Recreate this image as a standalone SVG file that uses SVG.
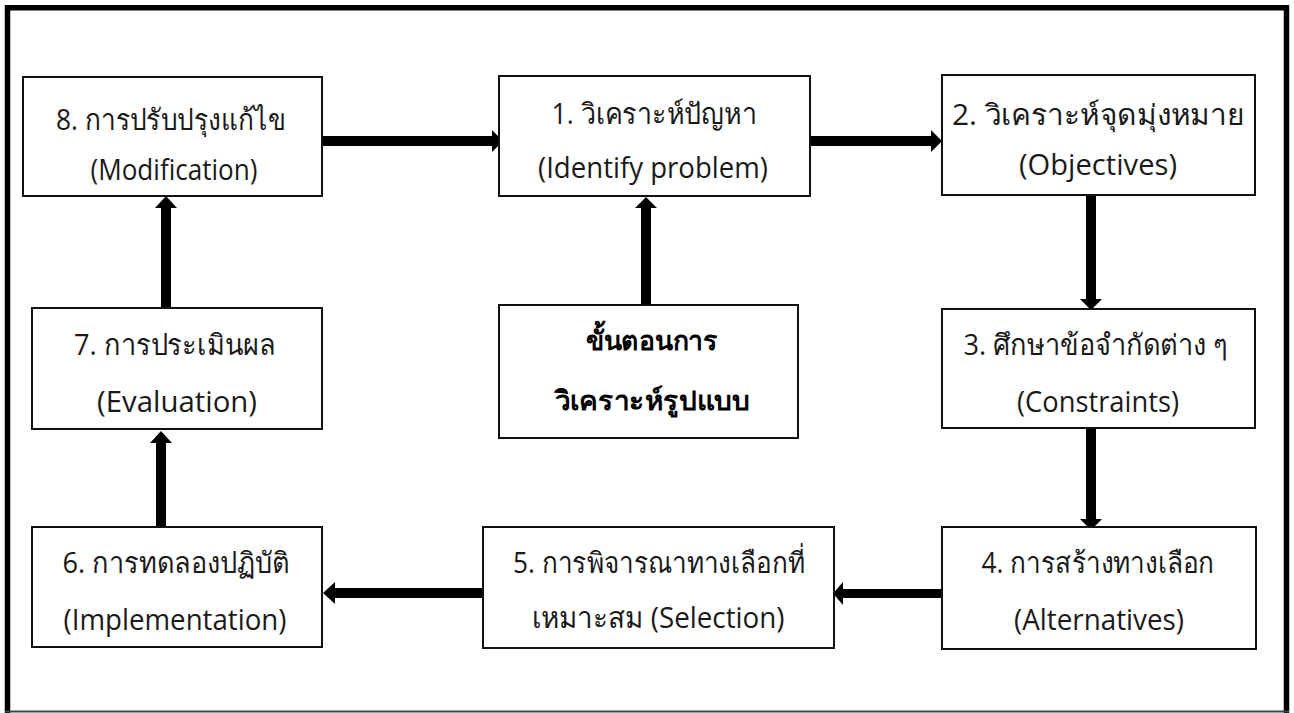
<svg xmlns="http://www.w3.org/2000/svg" width="1294" height="713" viewBox="0 0 1294 713">
<style>
.box{fill:#fff;stroke:#111;stroke-width:2}
.t{font-family:'Open Sans','Noto Sans',sans-serif;font-size:29px;fill:#1a1a1a;text-anchor:middle}
.b{font-weight:bold;fill:#000;font-size:27px}
.arr{fill:#000}
.frame{fill:none;stroke:#000;stroke-width:5.5}
</style>
<rect width="1294" height="713" fill="#fff"/>
<g id="frame">
<path class="frame" d="M7.5 713 V7.7 H1286.5 V713"/>
<line x1="5" y1="711.5" x2="1289" y2="711.5" stroke="#444" stroke-width="2"/>
</g>
<g id="connectors">
<polygon class="arr" points="322,136 492,136 492,130 503,141 492,152 492,146 322,146"/>
<polygon class="arr" points="810,136 931,136 931,130 942,141 931,152 931,146 810,146"/>
<polygon class="arr" points="1086,195 1096,195 1096,299 1102,299 1091,310 1080,299 1086,299"/>
<polygon class="arr" points="1086,428 1096,428 1096,519 1102,519 1091,530 1080,519 1086,519"/>
<polygon class="arr" points="942,589 843,589 843,582 833,593.5 843,605 843,598 942,598"/>
<polygon class="arr" points="483,588 335,588 335,582 323,593 335,604 335,598 483,598"/>
<polygon class="arr" points="156,527 166,527 166,443 172,443 161,431 150,443 156,443"/>
<polygon class="arr" points="161,308 171,308 171,208 177,208 166,196 155,208 161,208"/>
<polygon class="arr" points="641,305 651,305 651,208 657,208 646,197 635,208 641,208"/>
</g>
<g id="node8">
<rect class="box" x="23" y="77" width="299" height="119"/>
<text class="t" x="171" y="130" textLength="230" lengthAdjust="spacingAndGlyphs">8. การปรับปรุงแก้ไข</text>
<text class="t" x="174" y="180" textLength="167" lengthAdjust="spacingAndGlyphs">(Modification)</text>
</g>
<g id="node1">
<rect class="box" x="499" y="76" width="311" height="120"/>
<text class="t" x="654" y="124" textLength="205" lengthAdjust="spacingAndGlyphs">1. วิเคราะห์ปัญหา</text>
<text class="t" x="653" y="178" textLength="230" lengthAdjust="spacingAndGlyphs">(Identify problem)</text>
</g>
<g id="node2">
<rect class="box" x="942" y="75" width="313" height="120"/>
<text class="t" x="1098" y="125" textLength="292" lengthAdjust="spacingAndGlyphs">2. วิเคราะห์จุดมุ่งหมาย</text>
<text class="t" x="1098" y="175" textLength="158" lengthAdjust="spacingAndGlyphs">(Objectives)</text>
</g>
<g id="node3">
<rect class="box" x="942" y="309" width="313" height="119"/>
<text class="t" x="1096" y="355" textLength="265" lengthAdjust="spacingAndGlyphs">3. ศึกษาข้อจำกัดต่าง ๆ</text>
<text class="t" x="1098" y="412" textLength="162" lengthAdjust="spacingAndGlyphs">(Constraints)</text>
</g>
<g id="nodeCenter">
<rect class="box" x="499" y="305" width="299" height="133"/>
<text class="t b" x="652" y="350" textLength="132" lengthAdjust="spacingAndGlyphs">ขั้นตอนการ</text>
<text class="t b" x="652" y="410" textLength="195" lengthAdjust="spacingAndGlyphs">วิเคราะห์รูปแบบ</text>
</g>
<g id="node7">
<rect class="box" x="32" y="308" width="290" height="121"/>
<text class="t" x="175" y="355" textLength="202" lengthAdjust="spacingAndGlyphs">7. การประเมินผล</text>
<text class="t" x="177" y="412" textLength="160" lengthAdjust="spacingAndGlyphs">(Evaluation)</text>
</g>
<g id="node4">
<rect class="box" x="942" y="527" width="314" height="122"/>
<text class="t" x="1098" y="573" textLength="233" lengthAdjust="spacingAndGlyphs">4. การสร้างทางเลือก</text>
<text class="t" x="1099" y="630" textLength="170" lengthAdjust="spacingAndGlyphs">(Alternatives)</text>
</g>
<g id="node5">
<rect class="box" x="483" y="527" width="351" height="121"/>
<text class="t" x="659" y="573" textLength="292" lengthAdjust="spacingAndGlyphs">5. การพิจารณาทางเลือกที่</text>
<text class="t" x="658" y="628" textLength="253" lengthAdjust="spacingAndGlyphs">เหมาะสม (Selection)</text>
</g>
<g id="node6">
<rect class="box" x="32" y="527" width="290" height="120"/>
<text class="t" x="176" y="573" textLength="227" lengthAdjust="spacingAndGlyphs">6. การทดลองปฏิบัติ</text>
<text class="t" x="175" y="630" textLength="223" lengthAdjust="spacingAndGlyphs">(Implementation)</text>
</g>
</svg>
